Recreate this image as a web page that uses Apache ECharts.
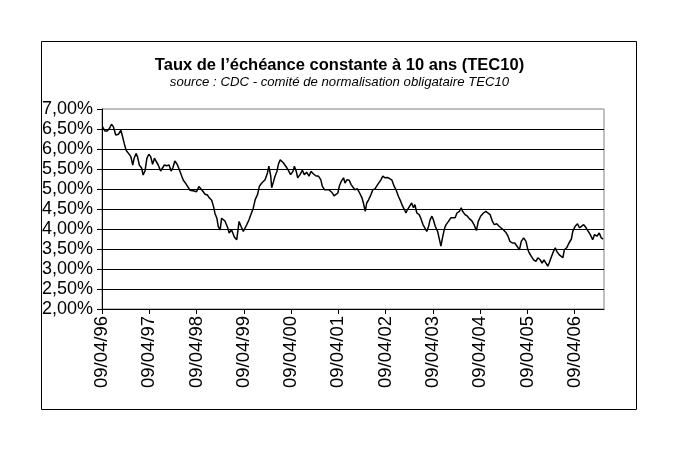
<!DOCTYPE html>
<html>
<head>
<meta charset="utf-8">
<script src="https://cdn.jsdelivr.net/npm/echarts@6/dist/echarts.min.js"></script>
<style>
html,body{margin:0;padding:0;background:#fff;}
#chart{width:679px;height:459px;}
</style>
</head>
<body>
<div id="chart"></div>
<script>
// Time in years since 09/04/1996
const yearsSince = [0.01,0.06,0.11,0.16,0.20,0.24,0.29,0.35,0.40,0.43,0.47,0.51,0.56,0.61,0.65,0.68,0.72,0.75,0.79,0.84,0.87,0.91,0.95,0.99,
1.03,1.07,1.11,1.14,1.19,1.24,1.28,1.32,1.37,1.42,1.46,1.50,1.54,1.59,1.64,1.69,1.72,1.77,1.81,1.86,1.90,1.95,
2.00,2.05,2.09,2.13,2.18,2.23,2.27,2.32,2.36,2.39,2.43,2.46,2.50,2.53,2.57,2.60,2.66,2.69,2.74,2.80,2.85,2.90,2.94,2.99,
3.03,3.06,3.11,3.15,3.20,3.24,3.29,3.33,3.38,3.41,3.45,3.50,3.53,3.57,3.59,3.63,3.66,3.70,3.73,3.77,3.80,3.84,3.87,3.91,3.94,3.99,
4.04,4.07,4.11,4.14,4.19,4.24,4.28,4.33,4.38,4.42,4.47,4.52,4.58,4.63,4.66,4.71,4.75,4.80,4.86,4.91,4.95,4.99,
5.02,5.06,5.11,5.14,5.18,5.23,5.27,5.31,5.35,5.40,5.45,5.50,5.53,5.57,5.60,5.64,5.69,5.73,5.78,5.81,5.85,5.90,5.94,5.99,
6.04,6.08,6.13,6.18,6.22,6.27,6.32,6.36,6.40,6.43,6.46,6.50,6.55,6.59,6.62,6.66,6.71,6.74,6.79,6.82,6.87,6.91,6.94,6.98,
7.01,7.05,7.10,7.14,7.17,7.21,7.25,7.28,7.33,7.38,7.42,7.47,7.51,7.56,7.60,7.63,7.68,7.73,7.77,7.82,7.87,7.92,7.96,
8.01,8.07,8.12,8.16,8.21,8.26,8.30,8.35,8.40,8.44,8.49,8.54,8.59,8.63,8.68,8.73,8.78,8.83,8.87,8.92,8.97,
9.01,9.04,9.08,9.13,9.18,9.22,9.27,9.31,9.35,9.39,9.43,9.46,9.50,9.55,9.59,9.62,9.67,9.71,9.75,9.78,9.83,9.88,9.93,9.96,
10.01,10.06,10.10,10.14,10.19,10.24,10.28,10.33,10.38,10.42,10.47,10.52,10.56,10.60];

// TEC10 rate, %
const tec10 = [6.56,6.45,6.45,6.52,6.62,6.56,6.35,6.37,6.47,6.33,6.14,5.97,5.89,5.81,5.60,5.77,5.89,5.81,5.60,5.52,5.35,5.45,5.77,5.87,
5.81,5.62,5.77,5.70,5.60,5.45,5.43,5.60,5.58,5.60,5.45,5.53,5.70,5.62,5.47,5.31,5.22,5.14,5.10,4.97,4.93,4.95,
4.93,5.06,5.10,4.95,4.87,4.85,4.78,4.72,4.56,4.39,4.27,4.06,3.98,4.27,4.28,4.20,4.03,3.90,3.98,3.80,3.73,4.19,4.07,3.94,
3.98,4.10,4.23,4.36,4.52,4.73,4.86,5.07,5.15,5.19,5.23,5.40,5.57,5.32,5.03,5.19,5.32,5.44,5.61,5.73,5.69,5.65,5.61,5.53,5.47,5.36,
5.44,5.57,5.44,5.28,5.36,5.47,5.36,5.42,5.32,5.44,5.38,5.33,5.32,5.23,5.07,4.98,4.94,4.98,4.92,4.83,4.78,4.90,
5.07,5.19,5.28,5.15,5.23,5.22,5.11,5.07,4.98,5.01,4.90,4.78,4.65,4.44,4.65,4.73,4.86,4.98,5.01,5.07,5.03,5.23,5.32,5.28,
5.29,5.28,5.23,5.07,4.98,4.82,4.69,4.57,4.48,4.40,4.48,4.53,4.65,4.53,4.61,4.40,4.36,4.28,4.11,4.07,3.94,4.07,4.23,4.32,
4.23,4.07,3.94,3.73,3.57,3.82,4.03,4.11,4.19,4.28,4.32,4.28,4.40,4.44,4.53,4.44,4.36,4.32,4.26,4.21,4.11,3.96,4.19,
4.32,4.40,4.44,4.40,4.36,4.19,4.11,4.13,4.07,4.03,3.98,3.92,3.82,3.69,3.65,3.65,3.57,3.48,3.69,3.78,3.69,
3.48,3.40,3.32,3.23,3.19,3.28,3.23,3.15,3.23,3.19,3.07,3.15,3.28,3.44,3.53,3.44,3.36,3.32,3.28,3.48,3.53,3.65,3.75,3.94,
4.07,4.13,4.03,4.07,4.11,4.03,3.98,3.86,3.73,3.86,3.82,3.90,3.78,3.75];

// Tick labels: yearly ticks at 09/04 (years since 09/04/96)
const tickYears = [0,1,2,3,4,5,6,7,8,9,10];
const tickLabels = ['09/04/96','09/04/97','09/04/98','09/04/99','09/04/00','09/04/01','09/04/02','09/04/03','09/04/04','09/04/05','09/04/06'];

const titleText = 'Taux de l\u2019échéance constante à 10 ans (TEC10)';
const subText = 'source : CDC - comité de normalisation obligataire TEC10';

const FONT = '"Liberation Sans", Arial, sans-serif';
const chart = echarts.init(document.getElementById('chart'), null, {renderer: 'canvas'});
chart.setOption({
  animation: false,
  backgroundColor: '#fff',
  graphic: [{
    type: 'rect', z: -1,
    shape: {x: 41.5, y: 41.5, width: 595, height: 368},
    style: {fill: 'none', stroke: '#000', lineWidth: 1}
  }],
  title: {
    text: titleText,
    subtext: subText,
    left: 'center',
    top: 52,
    itemGap: 2,
    textStyle: {fontFamily: FONT, fontSize: 16.5, fontWeight: 'bold', color: '#000'},
    subtextStyle: {fontFamily: FONT, fontSize: 13.2, fontStyle: 'italic', color: '#000'}
  },
  grid: {
    left: 102, right: 75, top: 109, bottom: 150,
    show: true, borderColor: '#808080', borderWidth: 1, backgroundColor: '#fff'
  },
  xAxis: {
    type: 'value', min: 0, max: 10.62, interval: 1,
    axisLine: {lineStyle: {color: '#000', width: 1}},
    axisTick: {show: true, length: 5, lineStyle: {color: '#000'}, customValues: tickYears},
    axisLabel: {
      rotate: 90, margin: 7, color: '#000', fontFamily: FONT, fontSize: 18.5,
      customValues: tickYears,
      formatter: v => tickLabels[tickYears.indexOf(Math.round(v))] || ''
    },
    splitLine: {show: false}
  },
  yAxis: {
    type: 'value', min: 2, max: 7, interval: 0.5,
    axisLine: {show: true, lineStyle: {color: '#000', width: 1}},
    axisTick: {show: true, length: 5, lineStyle: {color: '#000'}},
    axisLabel: {
      margin: 9, color: '#000', fontFamily: FONT, fontSize: 18,
      formatter: v => v.toFixed(2).replace('.', ',') + '%'
    },
    splitLine: {show: true, showMaxLine: false, lineStyle: {color: '#000', width: 1}}
  },
  series: [{
    type: 'line',
    data: yearsSince.map((t, i) => [t, tec10[i]]),
    showSymbol: false,
    lineStyle: {color: '#000', width: 1.5},
    z: 3
  }]
});
</script>
</body>
</html>
